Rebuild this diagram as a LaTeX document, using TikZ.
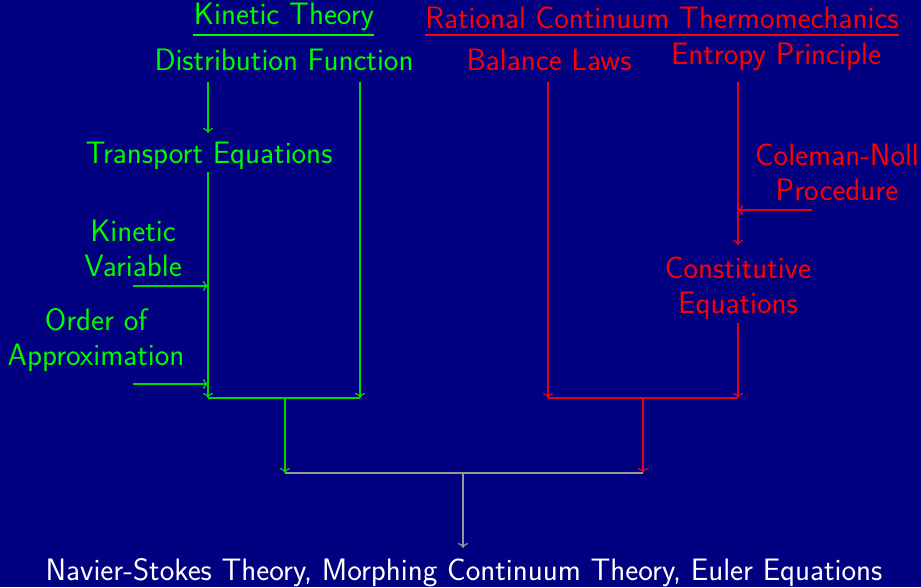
\documentclass[tikz,border=0pt]{standalone}
\usepackage{fontspec}
\usetikzlibrary{arrows.meta}
\definecolor{bgnavy}{RGB}{0,0,128}
\definecolor{kgreen}{RGB}{0,250,0}
\definecolor{kdark}{RGB}{0,215,0}
\definecolor{rred}{RGB}{255,0,0}
\definecolor{rdark}{RGB}{225,0,30}
\definecolor{mgrey}{RGB}{150,150,150}
\begin{document}
\begin{tikzpicture}[font=\sffamily\fontsize{31}{35}\selectfont, >={To[width=10pt,length=5pt,line width=1.3pt]},
    x={(1pt,0pt)}, y={(0pt,-1pt)},
    kin/.style={text=kgreen, align=center, inner sep=0pt},
    rat/.style={text=rred, align=center, inner sep=0pt},
    kline/.style={kdark, line width=1.3pt},
    rline/.style={rdark, line width=1.3pt},
    mline/.style={mgrey, line width=1.6pt}]
  \fill[bgnavy] (0,0) rectangle (921,587);
  \useasboundingbox (0,0) rectangle (921,587);
  % headings
  \node[kin] (kt) at (284,17) {Kinetic Theory};
  \node[rat] (rct) at (662,18) {Rational Continuum Thermomechanics};
  \coordinate (ktu1) at (193,35);
  \coordinate (ktu2) at (374,35);
  \coordinate (rctu1) at (425,35);
  \coordinate (rctu2) at (899,35);
  \draw[kline, kgreen] (ktu1) -- (ktu2);
  \draw[rline, rred] (rctu1) -- (rctu2);
  % nodes
  \node[kin] (df) at (284,60) {Distribution Function};
  \node[rat] (bl) at (549,60) {Balance Laws};
  \node[rat] (ep) at (776,57) {Entropy Principle};
  \node[kin] (te) at (209,156) {Transport Equations};
  \node[kin] (kv) at (133,248) {Kinetic\\Variable};
  \node[kin] (oa) at (96,340) {Order of\\Approximation};
  \node[rat] (cn) at (837,172) {Coleman-Noll\\Procedure};
  \node[rat] (ce) at (738,288) {Constitutive\\Equations};
  \node[text=white] (nst) at (464,573) {Navier-Stokes Theory, Morphing Continuum Theory, Euler Equations};
  % connector ends
  \coordinate (dfl) at (208,82);
  \coordinate (dfr) at (360,82);
  \coordinate (tet) at (208,133);
  \coordinate (teb) at (208,172);
  \coordinate (kvs) at (133,286);
  \coordinate (kve) at (208,286);
  \coordinate (oas) at (133,384);
  \coordinate (oae) at (208,384);
  \coordinate (kjl) at (208,398);
  \coordinate (kjr) at (360,398);
  \coordinate (kjm) at (285,398);
  \coordinate (blb) at (548,82);
  \coordinate (epb) at (738,82);
  \coordinate (cet) at (738,245);
  \coordinate (ceb) at (738,323);
  \coordinate (cns) at (812,210);
  \coordinate (cne) at (738,210);
  \coordinate (rjl) at (548,398);
  \coordinate (rjr) at (738,398);
  \coordinate (rjm) at (643,398);
  \coordinate (mjl) at (285,473);
  \coordinate (mjr) at (643,473);
  \coordinate (mjm) at (463,473);
  \coordinate (nstt) at (463,548);
  % kinetic side
  \draw[kline, ->] (dfl) -- (tet);
  \draw[kline, ->] (dfr) -- (kjr);
  \draw[kline, ->] (teb) -- (kjl);
  \draw[kline, ->] (kvs) -- (kve);
  \draw[kline, ->] (oas) -- (oae);
  \draw[kline] (kjl) -- (kjr);
  \draw[kline, ->] (kjm) -- (mjl);
  % continuum side
  \draw[rline, ->] (blb) -- (rjl);
  \draw[rline, ->] (epb) -- (cet);
  \draw[rline, ->] (cns) -- (cne);
  \draw[rline, ->] (ceb) -- (rjr);
  \draw[rline] (rjl) -- (rjr);
  \draw[rline, ->] (rjm) -- (mjr);
  % merge
  \draw[mline] (mjl) -- (mjr);
  \draw[mline, ->] (mjm) -- (nstt);
\end{tikzpicture}
\end{document}
